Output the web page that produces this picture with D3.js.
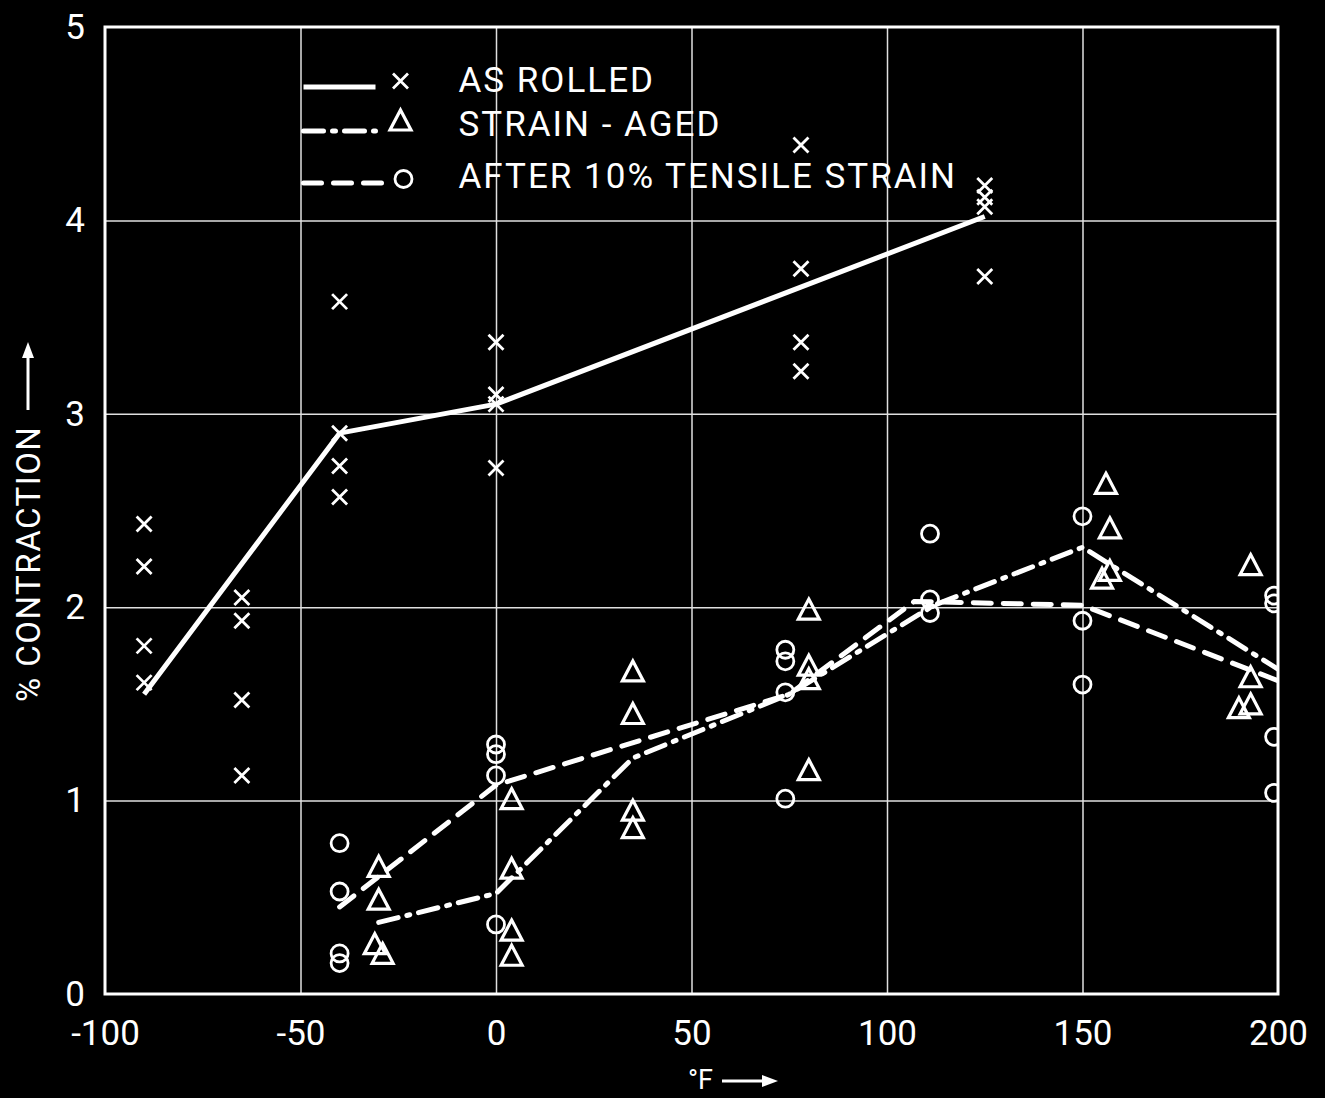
<!DOCTYPE html>
<html>
<head>
<meta charset="utf-8">
<script src="https://cdn.jsdelivr.net/npm/d3@7"></script>
<style>
  html, body { margin: 0; padding: 0; background: #000; }
  svg { display: block; }
  text { font-family: Roboto, "DejaVu Sans", sans-serif; fill: #fff; }
</style>
</head>
<body>
<div id="chart"></div>
<script>
// Axis ticks
const xTicks = [-100, -50, 0, 50, 100, 150, 200];
const yTicks = [0, 1, 2, 3, 4, 5];

// As rolled (x markers) and its curve
const asRolledPts = [
    [-90, 2.43], [-90, 2.21], [-90, 1.80], [-90, 1.61],
    [-65, 2.05], [-65, 1.93], [-65, 1.52], [-65, 1.13],
    [-40, 3.58], [-40, 2.90], [-40, 2.73], [-40, 2.57],
    [0, 3.37], [0, 3.10], [0, 3.05], [0, 2.72],
    [78, 4.39], [78, 3.75], [78, 3.37], [78, 3.22],
    [125, 4.18], [125, 4.12], [125, 4.07], [125, 3.71]
];
const asRolledLine = [[-90, 1.55], [-40, 2.90], [0, 3.05], [125, 4.02]];

// Strain-aged (triangles) and its curve
const strainAgedPts = [
    [-30, 0.65], [-30, 0.48], [-31, 0.25], [-29, 0.20],
    [4, 1.00], [4, 0.64], [4, 0.32], [4, 0.19],
    [35, 1.66], [35, 1.44], [35, 0.94], [35, 0.85],
    [80, 1.98], [80, 1.69], [80, 1.62], [80, 1.15],
    [156, 2.63], [157, 2.40], [157, 2.18], [155, 2.14],
    [193, 2.21], [193, 1.63], [193, 1.49], [190, 1.47]
];
const strainAgedLine = [[-30, 0.37], [0, 0.52], [35, 1.22], [75, 1.55], [112, 2.01], [150, 2.31], [200, 1.68]];

// After 10% tensile strain (circles) and its curve
const tensilePts = [
    [-40, 0.78], [-40, 0.53], [-40, 0.21], [-40, 0.16],
    [0, 1.29], [0, 1.24], [0, 1.13], [0, 0.36],
    [74, 1.78], [74, 1.72], [74, 1.56], [74, 1.01],
    [111, 2.38], [111, 2.04], [111, 1.97],
    [150, 2.47], [150, 1.93], [150, 1.60],
    [199, 2.06], [199, 2.02], [199, 1.33], [199, 1.04]
];
const tensileLine = [[-40, 0.45], [0, 1.08], [75, 1.55], [107, 2.03], [150, 2.01], [200, 1.62]];

const legendLabels = ["AS ROLLED", "STRAIN - AGED", "AFTER 10% TENSILE STRAIN"];

// Dimensions and margins
const W = 1325, H = 1098;
const margin = { top: 27, right: 47, bottom: 104, left: 105 };
const width = W - margin.left - margin.right;
const height = H - margin.top - margin.bottom;

const svg = d3.select("#chart")
    .append("svg")
    .attr("width", W)
    .attr("height", H);

svg.append("rect").attr("width", W).attr("height", H).attr("fill", "#000");

const g = svg.append("g")
    .attr("transform", `translate(${margin.left},${margin.top})`);

const x = d3.scaleLinear().domain([-100, 200]).range([0, width]);
const y = d3.scaleLinear().domain([0, 5]).range([height, 0]);

g.append("clipPath").attr("id", "plot-clip")
    .append("rect").attr("width", width).attr("height", height);

// Grid lines
g.append("g")
    .call(d3.axisBottom(x).tickValues(xTicks.slice(1, -1)).tickSize(height).tickFormat(""))
    .call(a => a.select(".domain").remove())
    .selectAll("line").attr("stroke", "#e0e0e0").attr("stroke-width", 1.5);

g.append("g")
    .call(d3.axisLeft(y).tickValues(yTicks.slice(1, -1)).tickSize(-width).tickFormat(""))
    .call(a => a.select(".domain").remove())
    .selectAll("line").attr("stroke", "#e0e0e0").attr("stroke-width", 1.5);

// Frame
g.append("rect")
    .attr("width", width).attr("height", height)
    .attr("fill", "none").attr("stroke", "#fff").attr("stroke-width", 3);

// Tick labels
g.append("g")
    .attr("transform", `translate(0,${height})`)
    .call(d3.axisBottom(x).tickValues(xTicks).tickSize(0).tickPadding(26).tickFormat(d => String(d)))
    .call(a => a.select(".domain").remove())
    .selectAll("text")
    .attr("fill", "#fff")
    .style("font-size", "35px")
    .style("font-family", "Roboto, sans-serif");

g.append("g")
    .call(d3.axisLeft(y).tickValues(yTicks).tickSize(0).tickPadding(20).tickFormat(d => String(d)))
    .call(a => a.select(".domain").remove())
    .selectAll("text")
    .attr("fill", "#fff")
    .style("font-size", "35px")
    .style("font-family", "Roboto, sans-serif");

// Curves
const line = d3.line().x(d => x(d[0])).y(d => y(d[1]));
const plot = g.append("g").attr("clip-path", "url(#plot-clip)");

plot.append("path").datum(asRolledLine).attr("d", line)
    .attr("fill", "none").attr("stroke", "#fff").attr("stroke-width", 5)
    .attr("stroke-linejoin", "round");
plot.append("path").datum(strainAgedLine).attr("d", line)
    .attr("fill", "none").attr("stroke", "#fff").attr("stroke-width", 5)
    .attr("stroke-dasharray", "20 9 3 9").attr("stroke-linecap", "round");
plot.append("path").datum(tensileLine).attr("d", line)
    .attr("fill", "none").attr("stroke", "#fff").attr("stroke-width", 5)
    .attr("stroke-dasharray", "18 12").attr("stroke-linecap", "round");

// Marker shapes
const crossPath = "M-7.5,-7.5L7.5,7.5M7.5,-7.5L-7.5,7.5";
const triPath = "M0,-12L10.5,8L-10.5,8Z";

plot.selectAll(".cross").data(asRolledPts).enter().append("path")
    .attr("class", "cross")
    .attr("transform", d => `translate(${x(d[0])},${y(d[1])})`)
    .attr("d", crossPath)
    .attr("stroke", "#fff").attr("stroke-width", 2.8).attr("fill", "none");

plot.selectAll(".tri").data(strainAgedPts).enter().append("path")
    .attr("class", "tri")
    .attr("transform", d => `translate(${x(d[0])},${y(d[1])})`)
    .attr("d", triPath)
    .attr("stroke", "#fff").attr("stroke-width", 3.2).attr("fill", "none");

plot.selectAll(".circ").data(tensilePts).enter().append("circle")
    .attr("class", "circ")
    .attr("cx", d => x(d[0])).attr("cy", d => y(d[1]))
    .attr("r", 8.5)
    .attr("stroke", "#fff").attr("stroke-width", 2.8).attr("fill", "none");

// Legend
const legend = g.append("g").attr("transform", `translate(${x(-50) + 3}, 0)`);
const legendRows = [
    { y: 60, dash: null, marker: "cross" },
    { y: 104, dash: "20 9 3 9", marker: "tri" },
    { y: 156, dash: "18 12", marker: "circ" }
];
legendRows.forEach((r, i) => {
    legend.append("line")
        .attr("x1", 0).attr("x2", i === 2 ? 78 : 72)
        .attr("y1", r.y).attr("y2", r.y)
        .attr("stroke", "#fff").attr("stroke-width", 5)
        .attr("stroke-dasharray", r.dash)
        .attr("stroke-linecap", r.dash ? "round" : "butt");
    const mx = 97, my = r.y - 6;
    if (r.marker === "cross") {
        legend.append("path").attr("transform", `translate(${mx},${my})`)
            .attr("d", crossPath).attr("stroke", "#fff").attr("stroke-width", 2.8);
    } else if (r.marker === "tri") {
        legend.append("path").attr("transform", `translate(${mx},${my - 3})`)
            .attr("d", triPath).attr("stroke", "#fff").attr("stroke-width", 3.2).attr("fill", "none");
    } else {
        legend.append("circle").attr("cx", mx + 3).attr("cy", my + 2).attr("r", 8.5)
            .attr("stroke", "#fff").attr("stroke-width", 2.8).attr("fill", "none");
    }
    legend.append("text")
        .attr("x", 155).attr("y", r.y + 5)
        .style("font-size", "35px")
        .style("letter-spacing", "2px")
        .text(legendLabels[i]);
});

// Axis titles
const xt = svg.append("g").attr("transform", `translate(688, 1089)`);
xt.append("text").attr("x", 0).attr("y", 0).style("font-size", "27px").text("°F");
xt.append("line").attr("x1", 34).attr("x2", 78).attr("y1", -8).attr("y2", -8)
    .attr("stroke", "#fff").attr("stroke-width", 3);
xt.append("path").attr("d", "M74,-14L90,-8L74,-2Z").attr("fill", "#fff");

const yt = svg.append("g").attr("transform", `translate(40, 702) rotate(-90)`);
yt.append("text").attr("x", 0).attr("y", 0).style("font-size", "33px")
    .style("letter-spacing", "1.5px").text("% CONTRACTION");
yt.append("line").attr("x1", 292).attr("x2", 348).attr("y1", -12).attr("y2", -12)
    .attr("stroke", "#fff").attr("stroke-width", 3);
yt.append("path").attr("d", "M344,-18L360,-12L344,-6Z").attr("fill", "#fff");
</script>
</body>
</html>
